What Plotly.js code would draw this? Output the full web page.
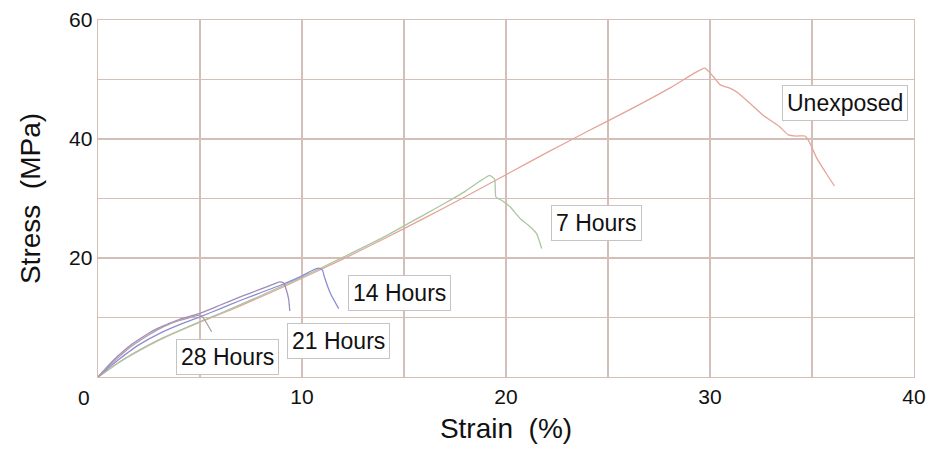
<!DOCTYPE html>
<html>
<head>
<meta charset="utf-8">
<script src="https://cdn.plot.ly/plotly-3.0.1.min.js"></script>
<style>html,body{margin:0;padding:0;background:#fff;}#chart{width:935px;height:459px;}</style>
</head>
<body>
<div id="chart"></div>
<script>
// Data
const seriesNames = ["Unexposed", "7 Hours", "14 Hours", "21 Hours", "28 Hours"];

const unexposedStrain = [0,0.5,1,1.5,2,3,4,5,6,7,8,9,10,11,12,14,16,18,20,22,24,26,28,29.3,29.75,30.16,30.5,31.0,31.4,31.96,32.6,33.4,33.84,34.25,34.66,34.9,35.2,35.7,36.1];
const unexposedStress = [0,1.2,2.4,3.5,4.5,6.3,7.8,9.2,10.6,12.0,13.5,15.0,16.6,18.2,19.8,23.2,26.7,30.3,34.0,37.7,41.3,44.8,48.5,51.2,51.9,50.5,49.1,48.5,47.7,46.0,44.0,42.1,40.7,40.5,40.5,39.3,37.0,34.2,32.1];

const h7Strain = [0,0.5,1,2,3,4,5,6,8,10,12,14,16,17,18,18.8,19.2,19.45,19.5,19.87,20.2,20.7,21.1,21.5,21.75];
const h7Stress = [0,1.2,2.4,4.4,6.2,7.8,9.3,10.7,13.7,16.8,20.1,23.5,27.3,29.2,31.2,33.1,33.9,33.2,30.3,29.5,28.6,26.6,25.5,24.1,21.6];

const h14Strain = [0,0.5,1,1.5,2,3,4,5,6,7,8,9,10,10.5,10.8,11.0,11.1,11.4,11.8];
const h14Stress = [0,1.5,2.9,4.2,5.4,7.3,8.8,10.1,11.5,12.9,14.2,15.5,17.0,17.9,18.3,18.0,16.8,14.0,11.5];

const h21Strain = [0,0.5,1,1.5,2,2.5,3,3.5,4,4.5,5,6,7,8,8.6,8.9,9.1,9.2,9.35,9.4];
const h21Stress = [0,1.9,3.6,5.1,6.3,7.4,8.3,9.0,9.7,10.2,10.7,12.1,13.5,14.8,15.6,16.0,15.8,15.0,13.0,11.1];

const h28Strain = [0,0.5,1,1.5,2,2.5,3,3.5,4,4.5,5.0,5.1,5.3,5.57];
const h28Stress = [0,1.7,3.3,4.8,6.0,7.1,8.1,8.9,9.5,10.0,10.4,10.2,9.2,7.6];

const xTickVals = [10,20,30,40];
const yTickVals = [20,40,60];

// label positions (data coords)
const labelX = [36.6, 24.46, 14.8, 11.81, 6.37];
const labelY = [46.05, 25.9, 14.1, 6.05, 3.36];

const colors = ["#e4a498", "#aac6a2", "#8c8ed4", "#a08cb6", "#b09ca8"];
const xs = [unexposedStrain, h7Strain, h14Strain, h21Strain, h28Strain];
const ys = [unexposedStress, h7Stress, h14Stress, h21Stress, h28Stress];

const traces = seriesNames.map((n, i) => ({
  x: xs[i], y: ys[i], name: n, type: "scatter", mode: "lines",
  line: {color: colors[i], width: 1.3, shape: "spline", smoothing: 0.4},
  hoverinfo: "skip"
}));

const font = "Liberation Sans, Arial, Helvetica, sans-serif";
const gridColor = "#d4beb8";

const annotations = seriesNames.map((n, i) => ({
  x: labelX[i], y: labelY[i], xref: "x", yref: "y", text: n, showarrow: false,
  font: {family: font, size: 23, color: "#111"},
  bgcolor: "#ffffff", bordercolor: "#c4c4c4", borderwidth: 1, borderpad: 4
}));
annotations.push({
  x: 0, y: 0, xref: "x", yref: "y", text: "0", showarrow: false,
  xshift: -14, yshift: -20, font: {family: font, size: 21, color: "#111"}
});

const layout = {
  width: 935, height: 459,
  margin: {l: 98, r: 21, t: 20, b: 82},
  paper_bgcolor: "#ffffff", plot_bgcolor: "#ffffff",
  showlegend: false,
  font: {family: font, color: "#111"},
  xaxis: {
    range: [0, 40], tickvals: xTickVals, ticktext: xTickVals.map(String),
    showgrid: true, gridcolor: gridColor, gridwidth: 1.4,
    minor: {dtick: 5, tick0: 0, showgrid: true, gridcolor: gridColor, gridwidth: 1.4},
    showline: true, linecolor: gridColor, linewidth: 1.4, mirror: true,
    zeroline: false, ticks: "",
    tickfont: {family: font, size: 21, color: "#111"},
    title: {text: "Strain\u00a0\u00a0(%)", font: {family: font, size: 28, color: "#111"}, standoff: 12}
  },
  yaxis: {
    range: [0, 60], tickvals: yTickVals, ticktext: yTickVals.map(String),
    showgrid: true, gridcolor: gridColor, gridwidth: 1.4,
    minor: {dtick: 10, tick0: 0, showgrid: true, gridcolor: gridColor, gridwidth: 1.4},
    showline: true, linecolor: gridColor, linewidth: 1.4, mirror: true,
    zeroline: false, ticks: "",
    tickfont: {family: font, size: 21, color: "#111"},
    title: {text: "Stress\u00a0\u00a0(MPa)", font: {family: font, size: 28, color: "#111"}, standoff: 20}
  },
  annotations: annotations
};

Plotly.newPlot("chart", traces, layout, {staticPlot: true, displayModeBar: false});
</script>
</body>
</html>
